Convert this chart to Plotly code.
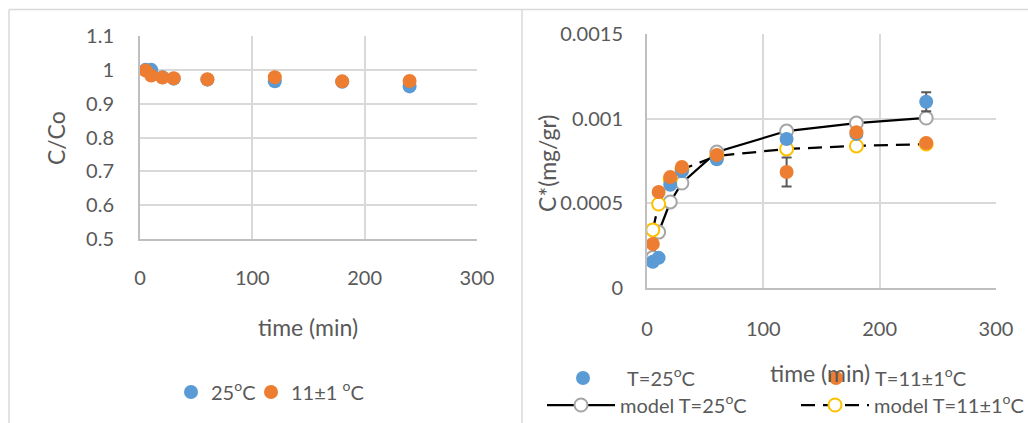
import plotly.graph_objects as go

W, H = 1028, 423

# sampling times (min)
time_min = [5, 10, 20, 30, 60, 120, 180, 240]

# left panel: C/Co
ratio_25 = [1.0, 1.0, 0.978, 0.974, 0.971, 0.966, 0.965, 0.951]
ratio_11 = [0.998, 0.983, 0.977, 0.975, 0.972, 0.978, 0.966, 0.967]

# right panel: C* (mg/gr), measured
cs_25 = [0.000155, 0.000178, 0.00061, 0.00069, 0.00076, 0.00088, 0.00091, 0.0011]
cs_11 = [0.00026, 0.000567, 0.000655, 0.000715, 0.000785, 0.000685, 0.00092, 0.000856]
err_25 = [0, 0, 0, 0, 0, 0, 0, 0.000056]
err_11 = [0, 0, 0, 0, 0, 0.000086, 0, 0]

# right panel: C* (mg/gr), model
model_25 = [0.00018, 0.00033, 0.000508, 0.00062, 0.000803, 0.000927, 0.000974, 0.001004]
model_11 = [0.000343, 0.000496, 0.00064, 0.0007, 0.00078, 0.000821, 0.000839, 0.00085]

# tick labels
x_ticks = [0, 100, 200, 300]
x_labels = ["0", "100", "200", "300"]
left_y_ticks = [0.5, 0.6, 0.7, 0.8, 0.9, 1.0, 1.1]
left_y_labels = ["0.5", "0.6", "0.7", "0.8", "0.9", "1", "1.1"]
right_y_ticks = [0, 0.0005, 0.001, 0.0015]
right_y_labels = ["0", "0.0005", "0.001", "0.0015"]

BLUE = "#5B9BD5"
ORANGE = "#ED7D31"
GRAY = "#A5A5A5"
YELLOW = "#FFC000"
TEXT = "#595959"
GRID = "#D9D9D9"
AXIS = "#BFBFBF"
FONT = "Lato"


def px_x(p):
    return p / W


def px_y(p):
    return 1 - p / H


fig = go.Figure()

# ---- left panel ----
fig.add_trace(go.Scatter(x=time_min, y=ratio_25, mode="markers", name="25<sup>o</sup>C",
                         marker=dict(color=BLUE, size=14), xaxis="x", yaxis="y", legend="legend"))
fig.add_trace(go.Scatter(x=time_min, y=ratio_11, mode="markers", name="11±1 <sup>o</sup>C",
                         marker=dict(color=ORANGE, size=14), xaxis="x", yaxis="y", legend="legend2"))

# ---- right panel ----
fig.add_trace(go.Scatter(x=time_min, y=model_25, mode="lines+markers", name="model T=25<sup>o</sup>C",
                         line=dict(color="black", width=2.25),
                         marker=dict(symbol="circle", size=13, color="white",
                                     line=dict(color=GRAY, width=2)),
                         xaxis="x2", yaxis="y2", legend="legend5"))
fig.add_trace(go.Scatter(x=time_min, y=model_11, mode="lines+markers", name="model T=11±1<sup>o</sup>C",
                         line=dict(color="black", width=2.25, dash="14px,8px"),
                         marker=dict(symbol="circle", size=13, color="white",
                                     line=dict(color=YELLOW, width=2)),
                         xaxis="x2", yaxis="y2", legend="legend6"))
fig.add_trace(go.Scatter(x=time_min, y=cs_25, mode="markers", name="T=25<sup>o</sup>C",
                         marker=dict(color=BLUE, size=14),
                         error_y=dict(type="data", array=err_25, color=TEXT, thickness=2, width=5),
                         xaxis="x2", yaxis="y2", legend="legend3"))
fig.add_trace(go.Scatter(x=time_min, y=cs_11, mode="markers", name="T=11±1<sup>o</sup>C",
                         marker=dict(color=ORANGE, size=14),
                         error_y=dict(type="data", array=err_11, color=TEXT, thickness=2, width=5),
                         xaxis="x2", yaxis="y2", legend="legend4"))

axis_common = dict(showline=True, linecolor=AXIS, linewidth=2, showgrid=True, gridcolor=GRID,
                   gridwidth=1.5, zeroline=False, ticks="", tickfont=dict(family=FONT, size=20, color=TEXT),
                   tickmode="array", mirror=False, automargin=False)


def legend_at(x_px, y_px, item_w=30):
    return dict(orientation="h", font=dict(family=FONT, size=20, color=TEXT),
                bgcolor="rgba(0,0,0,0)", borderwidth=0, yanchor="middle", xanchor="left",
                x=px_x(x_px), y=px_y(y_px), itemwidth=item_w)


fig.update_layout(
    width=W, height=H,
    margin=dict(l=0, r=0, t=0, b=0, autoexpand=False),
    paper_bgcolor="white", plot_bgcolor="white",
    font=dict(family=FONT, color=TEXT),
    xaxis=dict(axis_common, domain=[px_x(140), px_x(477)], range=[0, 300],
               tickvals=x_ticks, ticktext=x_labels, ticklabelstandoff=20, anchor="y"),
    yaxis=dict(axis_common, domain=[px_y(239), px_y(36)], range=[0.5, 1.1],
               tickvals=left_y_ticks, ticktext=left_y_labels, ticklabelstandoff=20, anchor="x"),
    xaxis2=dict(axis_common, domain=[px_x(647), px_x(996)], range=[0, 300],
                tickvals=x_ticks, ticktext=x_labels, ticklabelstandoff=22, anchor="y2"),
    yaxis2=dict(axis_common, domain=[px_y(288), px_y(34)], range=[0, 0.0015],
                tickvals=right_y_ticks, ticktext=right_y_labels, ticklabelstandoff=18, anchor="x2"),
    legend=legend_at(171, 392),
    legend2=legend_at(251, 392),
    legend3=legend_at(539, 378, 78),
    legend4=legend_at(797, 378, 68),
    legend5=legend_at(542, 405, 68),
    legend6=legend_at(796, 405, 68),
    showlegend=True,
)

# axis titles
title_font = dict(family=FONT, size=23, color=TEXT)
fig.add_annotation(text="time (min)", x=px_x(308), y=px_y(327), xref="paper", yref="paper",
                   showarrow=False, font=title_font, xanchor="center", yanchor="middle")
fig.add_annotation(text="C/Co", x=px_x(56), y=px_y(138), xref="paper", yref="paper",
                   showarrow=False, font=title_font, textangle=-90, xanchor="center", yanchor="middle")
fig.add_annotation(text="time (min)", x=px_x(820), y=px_y(373), xref="paper", yref="paper",
                   showarrow=False, font=title_font, xanchor="center", yanchor="middle")
fig.add_annotation(text="C*(mg/gr)", x=px_x(547), y=px_y(163), xref="paper", yref="paper",
                   showarrow=False, font=title_font, textangle=-90, xanchor="center", yanchor="middle")

# chart frames
frame = dict(color=GRID, width=1.5)
fig.add_shape(type="line", xref="paper", yref="paper", x0=px_x(9), x1=px_x(9), y0=0, y1=px_y(9.5), line=frame)
fig.add_shape(type="line", xref="paper", yref="paper", x0=px_x(522), x1=px_x(522), y0=0, y1=px_y(9.5), line=frame)
fig.add_shape(type="line", xref="paper", yref="paper", x0=px_x(9), x1=1, y0=px_y(9.5), y1=px_y(9.5), line=frame)

fig.write_html("out.html")
